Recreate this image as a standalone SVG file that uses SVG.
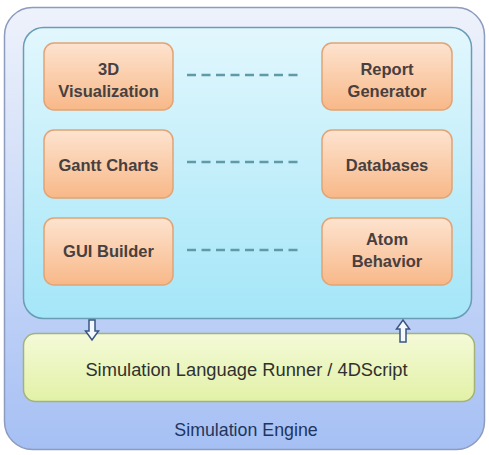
<svg xmlns="http://www.w3.org/2000/svg" width="489" height="455" viewBox="0 0 489 455">
<defs>
<linearGradient id="gOuter" x1="0" y1="0" x2="0" y2="1">
<stop offset="0" stop-color="#eef2fb"/>
<stop offset="1" stop-color="#a6c0f4"/>
</linearGradient>
<linearGradient id="gInner" x1="0" y1="0" x2="0" y2="1">
<stop offset="0" stop-color="#e2f7fd"/>
<stop offset="1" stop-color="#a4e6f8"/>
</linearGradient>
<linearGradient id="gOrange" x1="0" y1="0" x2="0" y2="1">
<stop offset="0" stop-color="#fde3cf"/>
<stop offset="1" stop-color="#f8b888"/>
</linearGradient>
<linearGradient id="gGreen" x1="0" y1="0" x2="0" y2="1">
<stop offset="0" stop-color="#f4fad8"/>
<stop offset="1" stop-color="#e2f1a6"/>
</linearGradient>
</defs>
<style>
.node rect{fill:url(#gOrange);stroke:#e0a476;stroke-width:1.5}
.lbl{font-family:"Liberation Sans",Arial,sans-serif;font-size:16.5px;font-weight:bold;fill:#474040;text-anchor:middle}
.dash{stroke:#5f9aa6;stroke-width:2.5;stroke-dasharray:9 5.5;fill:none}
.arrow{fill:#f4f8ff;stroke:#3a5580;stroke-width:1.5;stroke-linejoin:miter}
</style>
<g id="simulation-engine">
<rect x="4.5" y="7.5" width="480" height="442" rx="28" fill="url(#gOuter)" stroke="#8d9bbf" stroke-width="1.5"/>
<text x="246" y="436" font-family="'Liberation Sans',Arial,sans-serif" font-size="17.8" fill="#1e3560" text-anchor="middle">Simulation Engine</text>
</g>
<g id="modules-area">
<rect x="23.5" y="27.5" width="448" height="291" rx="20" fill="url(#gInner)" stroke="#6b9cb6" stroke-width="1.5"/>
</g>
<g id="runner">
<rect x="23.5" y="333.5" width="451" height="68" rx="12" fill="url(#gGreen)" stroke="#a4b27a" stroke-width="1.5"/>
<text x="246.5" y="376" font-family="'Liberation Sans',Arial,sans-serif" font-size="18.3" fill="#303030" text-anchor="middle">Simulation Language Runner / 4DScript</text>
</g>
<g id="connectors">
<line class="dash" x1="187" y1="75" x2="303" y2="75"/>
<line class="dash" x1="187" y1="162" x2="303" y2="162"/>
<line class="dash" x1="187" y1="250" x2="303" y2="250"/>
<path class="arrow" d="M89 320 H95 V331 H98.5 L92 340 L85.5 331 H89 Z"/>
<path class="arrow" d="M400 342 H406 V329 H409.5 L403 320 L396.5 329 H400 Z"/>
</g>
<g id="n-3d" class="node">
<rect x="44" y="43" width="129" height="67" rx="10"/>
<text class="lbl" x="108.5" y="75">3D</text>
<text class="lbl" x="108.5" y="97">Visualization</text>
</g>
<g id="n-gantt" class="node">
<rect x="44" y="130" width="129" height="68" rx="10"/>
<text class="lbl" x="108.5" y="171">Gantt Charts</text>
</g>
<g id="n-gui" class="node">
<rect x="44" y="218" width="129" height="67" rx="10"/>
<text class="lbl" x="108.5" y="257">GUI Builder</text>
</g>
<g id="n-report" class="node">
<rect x="322" y="43" width="130" height="67" rx="10"/>
<text class="lbl" x="387" y="75">Report</text>
<text class="lbl" x="387" y="97">Generator</text>
</g>
<g id="n-db" class="node">
<rect x="322" y="130" width="130" height="68" rx="10"/>
<text class="lbl" x="387" y="171">Databases</text>
</g>
<g id="n-atom" class="node">
<rect x="322" y="218" width="130" height="67" rx="10"/>
<text class="lbl" x="387" y="245">Atom</text>
<text class="lbl" x="387" y="267">Behavior</text>
</g>
</svg>
